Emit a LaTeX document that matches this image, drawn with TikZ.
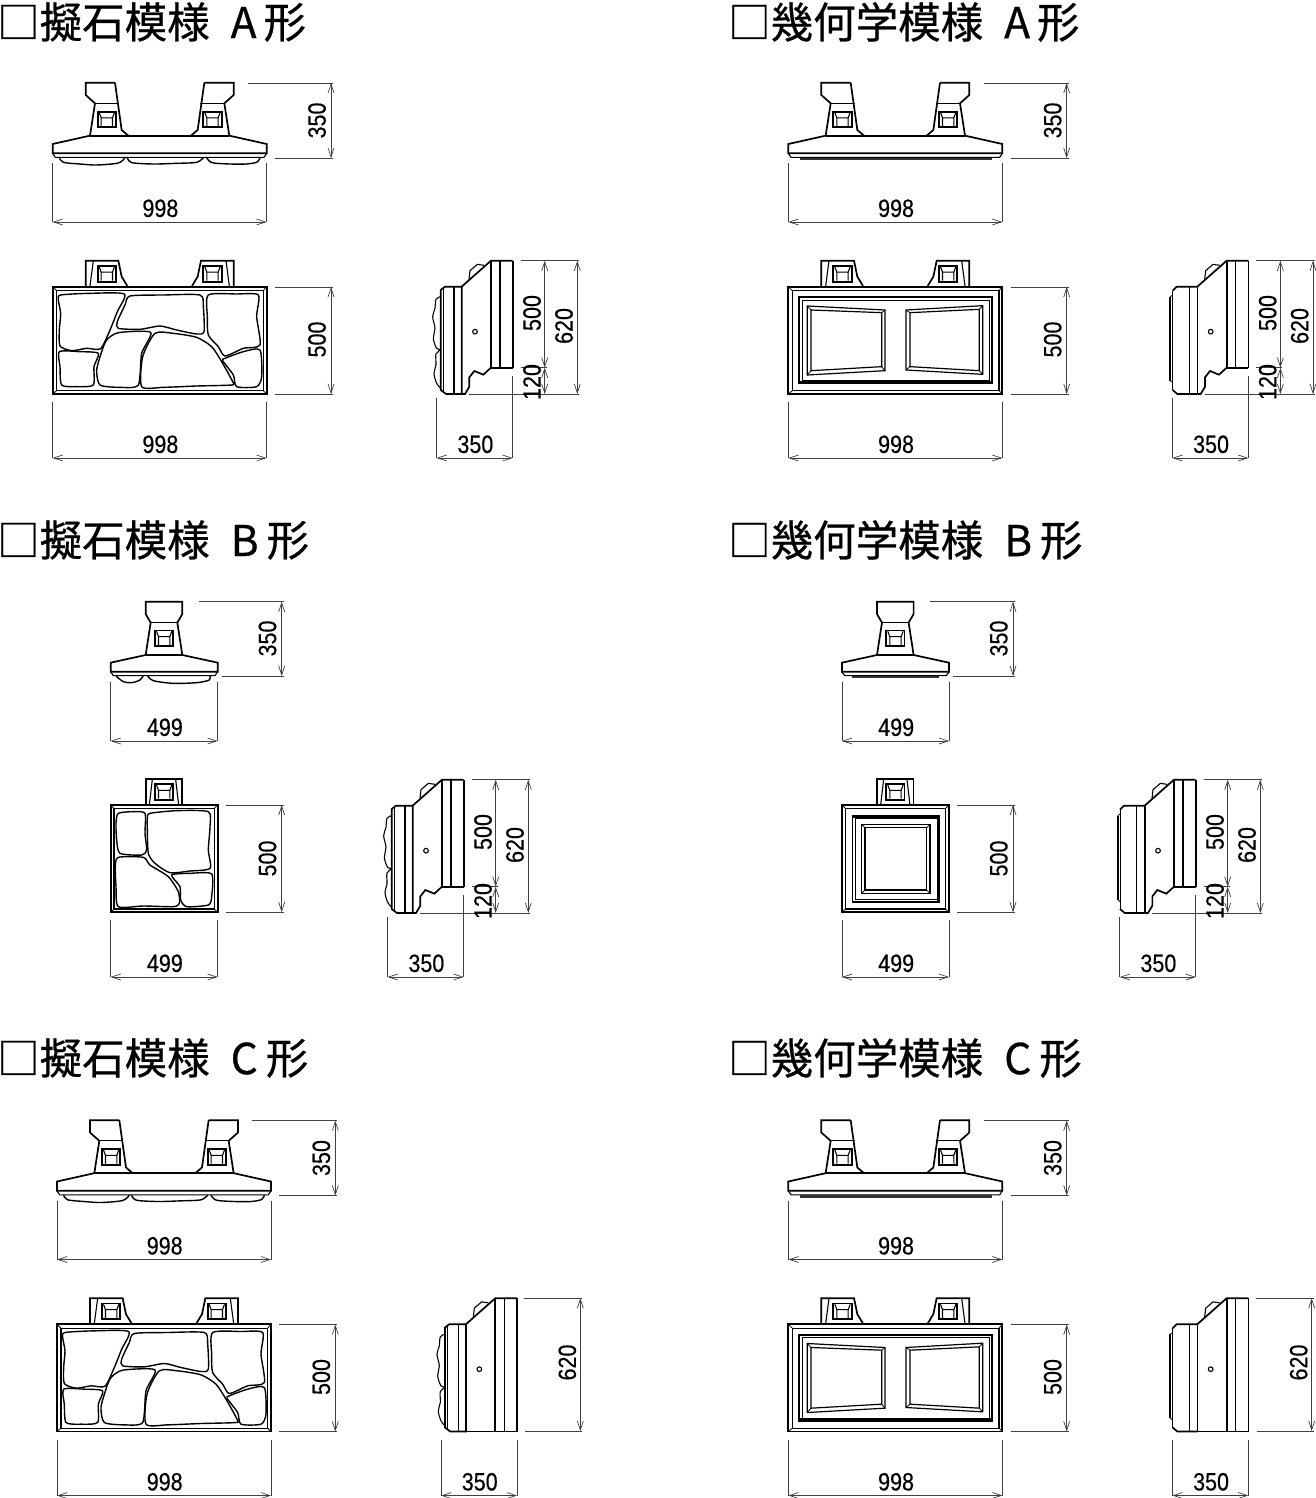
\documentclass[tikz,border=0pt]{standalone}
\usepackage{fontspec}
\usetikzlibrary{arrows.meta}
\newfontfamily\jpf[FakeBold=0.6]{Noto Sans CJK JP}
\newfontfamily\dimf[FakeStretch=0.86,FakeBold=0.35]{Liberation Sans}
\tikzset{
  thk/.style={line width=1.7pt,line join=miter},
  inr/.style={line width=1.2pt,line join=miter},
  med/.style={line width=1.1pt},
  thn/.style={line width=0.8pt},
  stone/.style={line width=1.4pt,line join=round},
  dimline/.style={line width=0.75pt,draw=black!75,{Straight Barb[length=9pt,width=6pt,line width=0.7pt]}-{Straight Barb[length=9pt,width=6pt,line width=0.7pt]}},
  ext/.style={line width=0.75pt,draw=black!75},
  dimtxt/.style={inner sep=0pt,font=\dimf\fontsize{25}{25}\selectfont},
  titletxt/.style={anchor=west,inner sep=0pt,font=\jpf\fontsize{42.5}{42.5}\selectfont},
  zoomed/.style={x=0.33333pt,y=-0.33333pt}
}
% ---- dimensions: x1 x2 ydim extY1 extY2 text textY
\newcommand\dimH[7]{%
  \draw[ext] (#1,#4)--(#1,#3) (#2,#5)--(#2,#3);
  \draw[dimline] (#1,#3)--(#2,#3);
  \node[dimtxt] at ({(#1+#2)/2+0.7},#7+0.3) {#6};}
% ---- y1 y2 xdim extX1 extX2 text textX textY
\newcommand\dimV[8]{%
  \draw[ext] (#4,#1)--(#3+2,#1) (#5,#2)--(#3+2,#2);
  \draw[dimline] (#3,#1)--(#3,#2);
  \node[dimtxt,rotate=90] at (#7,#8+0.5) {#6};}
% ---- handle square, centred at current origin
\newcommand\handleSq[2]{\begin{scope}[shift={(#1,#2)}]
  \draw[thk] (-27.5,-23.5) rectangle (27.5,23.5);
  \draw[med] (-23,-21)--(-17,-5)--(-17,20) (23,-21)--(17,-5)--(17,20) (-17,-5)--(17,-5);
\end{scope}}
% ---- plan-view handle (left)
\newcommand\planHandle{%
  \draw[thk] (255,38)--(167,38)--(167,75)--(195,100)--(180,197);
  \draw[thk] (255,38)--(275,180)--(295,197);
  \draw[med] (195,100)--(267,100);
  \handleSq{230.5}{148.5}}
\newcommand\frontHandle{%
  \draw[thk] (167,108)--(167,32)--(265,32)--(275,80)--(292,108);
  \draw[med] (180,108)--(190,32);
  \handleSq{230.5}{71.5}}
% ---- plan view of two-handled block
\newcommand\topTwo[1]{\begin{scope}[shift={(30,70)},zoomed]
  \planHandle
  \begin{scope}[shift={(778,0)},xscale=-1]\planHandle\end{scope}
  \draw[thk] (180,197)--(295,197)--(483,197)--(598,197);
  \draw[thk] (180,197)--(68,222)--(68,250)--(710,250)--(710,222)--(598,197);
  \draw[med] (68,250)--(76,262)--(702,262)--(710,250);
  #1
\end{scope}}
\newcommand\topStoneBits{%
  \draw[stone] plot[smooth,tension=.5] coordinates {(88,263)(100,277)(150,282)(200,285)(265,279)(285,263)};
  \draw[stone] plot[smooth,tension=.5] coordinates {(292,263)(306,278)(370,282)(440,280)(500,277)(520,263)};
  \draw[stone] plot[smooth,tension=.5] coordinates {(530,263)(546,278)(600,282)(650,282)(682,276)(690,263)};}
\newcommand\topGeoBits{\draw[line width=2.4pt,draw=black!80] (103,267)--(678,267);}
% ---- front frame
\newcommand\frontFrame{%
  \draw[thk] (68,110) rectangle (710,432);
  \draw[inr] (80,122) rectangle (700,422);
  \draw[thn] (68,110)--(80,122) (710,110)--(700,122) (68,432)--(80,422) (710,432)--(700,422);}
\newcommand\frontTwo[1]{\begin{scope}[shift={(30,250)},zoomed]
  \frontHandle
  \begin{scope}[shift={(778,0)},xscale=-1]\frontHandle\end{scope}
  \frontFrame
  #1
\end{scope}}
\newcommand\stoneA{%
  \foreach \c in {
   {(92,135)(180,130)(283,132)(262,185)(240,240)(212,296)(170,295)(125,302)(90,288)(88,240)(92,190)(85,150)},
   {(300,138)(400,135)(510,135)(520,170)(522,245)(500,252)(440,240)(390,228)(330,238)(265,235)(262,215)(285,165)},
   {(535,135)(620,132)(685,135)(680,200)(690,285)(640,295)(585,318)(565,290)(535,255)(532,200)},
   {(88,305)(150,305)(205,310)(192,350)(190,405)(140,410)(95,405)(90,350)},
   {(265,248)(362,247)(335,310)(325,405)(270,412)(210,405)(200,360)(215,305)(230,270)},
   {(375,250)(430,250)(500,262)(545,290)(575,335)(608,395)(605,405)(500,408)(400,412)(335,410)(338,320)},
   {(585,325)(640,305)(690,300)(695,380)(680,410)(620,410)(610,375)(578,332)}}
  {\draw[stone] plot[smooth cycle,tension=.4] coordinates \c;}}
\newcommand\geoA{%
  \draw[thk] (101,142) rectangle (678,400);
  \draw[thn] (109,150) rectangle (671,392);
  \fill (101,392) rectangle (678,400);
  \draw[inr] (125,168)--(358,180)--(358,362)--(125,375)--cycle;
  \draw[inr] (136,180)--(348,188)--(348,350)--(136,362)--cycle;
  \draw[thn] (125,168)--(136,180) (358,180)--(348,188) (358,362)--(348,350) (125,375)--(136,362);
  \draw[inr] (421,180)--(651,167)--(651,373)--(421,360)--cycle;
  \draw[inr] (433,188)--(641,178)--(641,362)--(433,350)--cycle;
  \draw[thn] (421,180)--(433,188) (651,167)--(641,178) (651,373)--(641,362) (421,360)--(433,350);}
% ---- B plan
\newcommand\topOne[1]{\begin{scope}[shift={(90,590)},zoomed]
  \draw[thk] (167,195)--(182,98)--(167,72)--(167,35)--(277,35)--(277,72)--(262,98)--(277,195);
  \draw[med] (182,98)--(262,98);
  \handleSq{222.5}{145}
  \draw[thk] (167,195)--(277,195);
  \draw[thk] (167,195)--(62,218)--(62,245)--(383,245)--(383,218)--(277,195);
  \draw[med] (62,245)--(70,257)--(375,257)--(383,245);
  #1
\end{scope}}
\newcommand\topOneStone{%
  \draw[stone] plot[smooth,tension=.5] coordinates {(78,258)(100,275)(125,278)(150,270)(160,256)};
  \draw[stone] plot[smooth,tension=.5] coordinates {(172,256)(190,272)(250,280)(320,278)(358,270)(360,258)};}
\newcommand\topOneGeo{\draw[line width=2.2pt,draw=black!80] (92,262)--(352,262);}
% ---- B front
\newcommand\frontOne[1]{\begin{scope}[shift={(90,770)},zoomed]
  \draw[thk] (167,105)--(167,28)--(277,28)--(277,105);
  \draw[med] (178,105)--(187,28) (266,105)--(257,28);
  \handleSq{222.5}{66}
  \draw[thk] (62,105) rectangle (383,427);
  \draw[inr] (72,115) rectangle (373,417);
  \draw[thn] (62,105)--(72,115) (383,105)--(373,115) (62,427)--(72,417) (383,427)--(373,417);
  #1
\end{scope}}
\newcommand\stoneB{%
  \foreach \c in {
   {(85,130)(130,125)(165,130)(165,190)(170,240)(155,255)(90,250)(80,210)(78,160)},
   {(180,130)(260,122)(355,125)(360,170)(355,240)(360,295)(300,303)(240,308)(195,280)(175,250)(172,180)(172,145)},
   {(85,262)(160,262)(180,285)(235,320)(265,365)(268,400)(250,410)(160,408)(85,410)(78,350)(76,290)},
   {(245,315)(300,310)(365,312)(365,380)(355,405)(290,410)(272,390)(270,350)}}
  {\draw[stone] plot[smooth cycle,tension=.4] coordinates \c;}}
\newcommand\geoB{%
  \draw[thk] (94,137) rectangle (354,395);
  \draw[thn] (101,145) rectangle (348,388);
  \fill (94,137) rectangle (354,145);
  \fill (346,137) rectangle (354,395);
  \draw[inr] (121,163) rectangle (326,370);
  \draw[inr] (131,173) rectangle (316,360);
  \draw[thn] (121,163)--(131,173) (326,163)--(316,173) (121,370)--(131,360) (326,370)--(316,360);}
% ---- side views
\newcommand\sideCommon{%
  \draw[thk] (125,110)--(213,32)--(278,32);
  \draw[thk] (213,32)--(213,353) (278,32)--(278,353);
  \draw[med] (240,32)--(240,353);
  \draw[med] (147,88)--(150,62)--(172,43)--(192,46);
  \draw[med] (165,245) circle (7);}
\newcommand\sideLeftStone{%
  \draw[thk] (125,110)--(75,110)--(62,120)--(62,420)--(78,432)--(125,432)--cycle;
  \draw[med] (102,110)--(102,432) (70,115)--(70,426);
  \draw[med] plot[smooth,tension=.6] coordinates {(62,140)(48,148)(45,175)(38,200)(45,235)(40,265)(50,295)(62,298)};
  \draw[med] plot[smooth,tension=.6] coordinates {(62,300)(48,312)(48,345)(42,370)(50,400)(62,415)};}
\newcommand\sideLeftGeo{%
  \draw[thk] (125,110)--(63,110)--(51,122);
  \draw[thk] (51,420)--(65,432)--(125,432);
  \draw[thk] (125,110)--(125,432);
  \draw[thn] (51,122)--(51,420);
  \draw[med] (101,110)--(101,432);
  \draw[thn] (51,135)--(44,140) (44,392)--(51,398);
  \draw[line width=2pt] (44,140)--(44,392);}
\newcommand\sideNotch[1]{\begin{scope}[shift={(420,250)},zoomed]
  \sideCommon #1
  \draw[thk] (213,353)--(278,353);
  \draw[thk] (125,432)--(135,432)--(148,410)--(148,382)--(163,363)--(190,374)--(213,353);
\end{scope}}
\newcommand\sideFlat[1]{\begin{scope}[shift={(420,250)},zoomed]
  \sideCommon #1
  \draw[thk] (213,353)--(213,432) (278,353)--(278,432) (125,432)--(278,432);
  \draw[med] (240,353)--(240,432);
\end{scope}}
% ---- dimension groups
\newcommand\dimsTwo{%
  \dimV{83}{158}{331}{248}{275}{350}{317}{120}
  \dimH{52.7}{266.7}{222}{163}{163}{998}{208}
  \dimV{287}{394}{331}{275}{275}{500}{317}{339}
  \dimH{52.7}{266.7}{458}{402}{402}{998}{444}}
\newcommand\dimsOne{%
  \dimV{601.7}{676}{281.7}{199}{222}{350}{267.5}{638}
  \dimH{110.7}{217.7}{741}{682}{682}{499}{727}
  \dimV{805}{912.3}{281.7}{226}{226}{500}{267.5}{858}
  \dimH{110.7}{217.7}{977}{920}{920}{499}{963}}
\newcommand\dimsSideFull{%
  \draw[ext] (520.7,260.7)--(579.3,260.7) (520.7,367.7)--(546.7,367.7) (469.3,394)--(579.3,394);
  \draw[dimline] (544.7,260.7)--(544.7,367.7);
  \draw[dimline] (544.7,367.7)--(544.7,394);
  \draw[dimline] (577.3,260.7)--(577.3,394);
  \node[dimtxt,rotate=90] at (532,313) {500};
  \node[dimtxt,rotate=90] at (564,326) {620};
  \node[dimtxt,rotate=90] at (532,382) {120};
  \dimH{436.7}{512.7}{458}{398}{376}{350}{444}}
\newcommand\dimsSideC{%
  \draw[ext] (520,260.7)--(578,260.7) (521,393.5)--(578,393.5);
  \draw[dimline] (576,260.7)--(576,393.5);
  \node[dimtxt,rotate=90] at (563,325) {620};
  \dimH{436.7}{512.7}{458}{402}{402}{350}{444}}
\begin{document}
\begin{tikzpicture}[x=1pt,y=-1pt]
\fill[white] (0,0) rectangle (1315,1498);
\useasboundingbox (0,0) rectangle (1315,1498);
% titles
\node[titletxt] (t1) at (-3,22) {□擬石模様\hspace{21pt}A\hspace{7pt}形};
\node[titletxt] (t2) at (728,22) {□幾何学模様\hspace{21pt}A\hspace{7pt}形};
\node[titletxt] (t3) at (-3,540) {□擬石模様\hspace{21pt}B\hspace{8pt}形};
\node[titletxt] (t4) at (728,540) {□幾何学模様\hspace{21pt}B\hspace{8pt}形};
\node[titletxt] (t5) at (-3,1058) {□擬石模様\hspace{21pt}C\hspace{8pt}形};
\node[titletxt] (t6) at (728,1058) {□幾何学模様\hspace{21pt}C\hspace{8pt}形};
% stone A
\topTwo{\topStoneBits}
\frontTwo{\stoneA}
\sideNotch{\sideLeftStone}
\dimsTwo \dimsSideFull
% geometric A
\begin{scope}[shift={(735.67,0)}]
\topTwo{\topGeoBits}
\frontTwo{\geoA}
\sideNotch{\sideLeftGeo}
\dimsTwo \dimsSideFull
\end{scope}
% stone B
\topOne{\topOneStone}
\frontOne{\stoneB}
\begin{scope}[shift={(-49,519)}]
\sideNotch{\sideLeftStone}
\dimsSideFull
\end{scope}
\dimsOne
% geometric B
\begin{scope}[shift={(731.3,0)}]
\topOne{\topOneGeo}
\frontOne{\geoB}
\dimsOne
\end{scope}
\begin{scope}[shift={(683,519)}]
\sideNotch{\sideLeftGeo}
\dimsSideFull
\end{scope}
% stone C
\begin{scope}[shift={(4.33,1037.5)}]
\topTwo{\topStoneBits}
\frontTwo{\stoneA}
\sideFlat{\sideLeftStone}
\dimsTwo \dimsSideC
\end{scope}
% geometric C
\begin{scope}[shift={(735.67,1037.5)}]
\topTwo{\topGeoBits}
\frontTwo{\geoA}
\sideFlat{\sideLeftGeo}
\dimsTwo \dimsSideC
\end{scope}
\end{tikzpicture}
\end{document}
